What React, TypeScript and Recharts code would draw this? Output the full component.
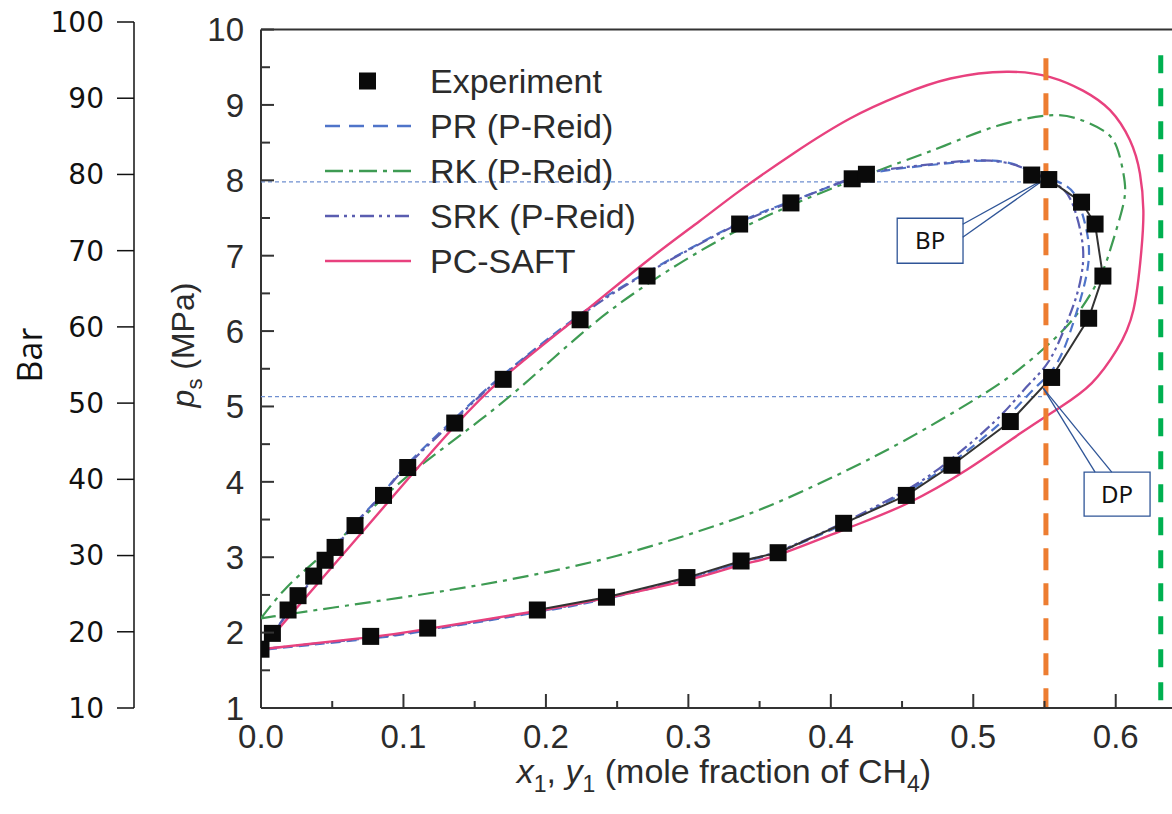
import { ComposedChart, Line, Scatter, XAxis, YAxis, ReferenceLine, ReferenceArea, Legend } from 'recharts';

// axis ticks
const X_TICKS = [0, 0.05, 0.1, 0.15, 0.2, 0.25, 0.3, 0.35, 0.4, 0.45, 0.5, 0.55, 0.6];
const P_TICKS = [1, 1.5, 2, 2.5, 3, 3.5, 4, 4.5, 5, 5.5, 6, 6.5, 7, 7.5, 8, 8.5, 9, 9.5, 10];
const BAR_TICKS = [10, 20, 30, 40, 50, 60, 70, 80, 90, 100];

// [x1/y1, ps MPa]
const EXPERIMENT: [number, number][] = [
  [0, 1.78], [0.008, 1.99], [0.019, 2.3], [0.026, 2.49], [0.037, 2.75], [0.045, 2.96],
  [0.052, 3.13], [0.066, 3.42], [0.086, 3.82], [0.103, 4.19], [0.136, 4.78], [0.17, 5.36],
  [0.224, 6.15], [0.271, 6.73], [0.336, 7.42], [0.372, 7.7], [0.415, 8.02], [0.425, 8.08],
  [0.541, 8.07], [0.553, 8.01], [0.576, 7.71], [0.5855, 7.42], [0.591, 6.73], [0.581, 6.17],
  [0.555, 5.385], [0.526, 4.8], [0.485, 4.22], [0.453, 3.82], [0.409, 3.45], [0.363, 3.06],
  [0.337, 2.95], [0.299, 2.73], [0.2425, 2.47], [0.194, 2.3], [0.117, 2.06], [0.077, 1.95],
];

// black line joining the dew-side measurements
const EXP_LINE: [number, number][] = [
  [0.553, 8.01], [0.576, 7.71], [0.5855, 7.42], [0.591, 6.73], [0.581, 6.17], [0.555, 5.385],
  [0.526, 4.8], [0.485, 4.22], [0.453, 3.82], [0.409, 3.45], [0.363, 3.06], [0.337, 2.95],
  [0.299, 2.73], [0.2425, 2.47], [0.194, 2.3],
];

const PR: [number, number][] = [
  [0, 1.77], [0.02, 2.3], [0.045, 2.97], [0.066, 3.45], [0.086, 3.86], [0.103, 4.24],
  [0.136, 4.84], [0.17, 5.42], [0.224, 6.22], [0.271, 6.78], [0.336, 7.44], [0.372, 7.72],
  [0.415, 8.02], [0.45, 8.16], [0.49, 8.24], [0.514, 8.26], [0.531, 8.2], [0.545, 8.08],
  [0.5656, 7.92], [0.575, 7.65], [0.58, 7.29], [0.581, 6.94], [0.577, 6.54], [0.57, 6.1],
  [0.5586, 5.57], [0.542, 5.22], [0.519, 4.78], [0.481, 4.2], [0.451, 3.85], [0.409, 3.44],
  [0.363, 3.07], [0.337, 2.93], [0.299, 2.71], [0.2425, 2.45], [0.194, 2.27], [0.117, 2.03],
  [0.077, 1.92], [0, 1.77],
];

const SRK: [number, number][] = [
  [0, 1.78], [0.02, 2.29], [0.045, 2.95], [0.066, 3.44], [0.086, 3.85], [0.103, 4.22],
  [0.136, 4.82], [0.17, 5.41], [0.224, 6.2], [0.271, 6.77], [0.336, 7.43], [0.372, 7.71],
  [0.415, 8.03], [0.45, 8.17], [0.49, 8.25], [0.512, 8.26], [0.53, 8.2], [0.545, 8.07],
  [0.562, 7.9], [0.571, 7.62], [0.576, 7.25], [0.577, 6.9], [0.573, 6.5], [0.565, 6.08],
  [0.553, 5.6], [0.537, 5.25], [0.515, 4.8], [0.479, 4.22], [0.45, 3.86], [0.408, 3.45],
  [0.363, 3.08], [0.337, 2.94], [0.299, 2.72], [0.2425, 2.46], [0.194, 2.28], [0.117, 2.04],
  [0.077, 1.93], [0, 1.78],
];

const RK: [number, number][] = [
  [0, 2.19], [0.018, 2.6], [0.04, 2.98], [0.07, 3.5], [0.1, 4.03], [0.14, 4.62],
  [0.18, 5.22], [0.224, 5.95], [0.271, 6.62], [0.336, 7.35], [0.402, 7.9], [0.449, 8.24],
  [0.48, 8.46], [0.5165, 8.72], [0.5516, 8.86], [0.5727, 8.82], [0.5913, 8.66], [0.6007, 8.44],
  [0.6054, 8.09], [0.6065, 7.82], [0.603, 7.51], [0.596, 7.07], [0.589, 6.72], [0.575, 6.28],
  [0.556, 5.88], [0.53, 5.46], [0.5, 5.08], [0.45, 4.53], [0.4, 4.05], [0.35, 3.63],
  [0.3, 3.3], [0.25, 3.02], [0.2, 2.8], [0.15, 2.62], [0.1, 2.47], [0.05, 2.33], [0, 2.19],
];

const PC_SAFT: [number, number][] = [
  [0, 1.78], [0.0512, 2.9], [0.1024, 4.02], [0.136, 4.74], [0.17, 5.38], [0.224, 6.21],
  [0.271, 6.93], [0.308, 7.46], [0.336, 7.86], [0.374, 8.36], [0.4135, 8.82], [0.449, 9.13],
  [0.484, 9.35], [0.5235, 9.44], [0.554, 9.37], [0.577, 9.19], [0.596, 8.93], [0.61, 8.53],
  [0.617, 8.09], [0.6194, 7.6], [0.618, 7.07], [0.6124, 6.28], [0.6007, 5.75], [0.5832, 5.31],
  [0.561, 4.99], [0.5328, 4.64], [0.4955, 4.16], [0.4533, 3.71], [0.4112, 3.38], [0.363, 3.03],
  [0.337, 2.9], [0.3, 2.7], [0.243, 2.46], [0.195, 2.29], [0.117, 2.05], [0.077, 1.94], [0, 1.78],
];

const pts = (arr: [number, number][]) => arr.map(([x, p]) => ({ x, p }));

const FONT = '"Liberation Sans", Arial, sans-serif';
const TXT = '#2b2b2b';
const C_PR = '#4f74c9';
const C_RK = '#3e9b53';
const C_SRK = '#5a5db0';
const C_SAFT = '#e8417e';
const C_CALLOUT = '#2f5597';

const Square = (props: any) => (
  <rect x={props.cx - 8.5} y={props.cy - 8.5} width={17} height={17} fill="#0a0a0a" />
);

const MpaTick = (props: any) => {
  const { x, y, payload } = props;
  const v = payload.value;
  const major = Number.isInteger(v);
  return (
    <g>
      <line x1={x} x2={x + (major ? 13 : 9)} y1={y} y2={y} stroke="#333" strokeWidth={2} />
      {major && (
        <text x={x - 17} y={y} dy="0.36em" textAnchor="end" fontSize={33} fontFamily={FONT} fill={TXT}>
          {v}
        </text>
      )}
    </g>
  );
};

const XTick = (props: any) => {
  const { x, y, payload } = props;
  const v = payload.value;
  const major = Math.abs(v * 10 - Math.round(v * 10)) < 1e-6;
  return (
    <g>
      <line x1={x} x2={x} y1={y} y2={y - (major ? 14 : 7)} stroke="#333" strokeWidth={2} />
      {major && (
        <text x={x} y={y + 40} textAnchor="middle" fontSize={33} fontFamily={FONT} fill={TXT}>
          {v.toFixed(1)}
        </text>
      )}
    </g>
  );
};

const XTitle = () => (
  <text x={724} y={783} textAnchor="middle" fontSize={34} fontFamily={FONT} fill={TXT}>
    <tspan fontStyle="italic">x</tspan>
    <tspan dy={9} fontSize={23}>1</tspan>
    <tspan dy={-9}>, </tspan>
    <tspan fontStyle="italic">y</tspan>
    <tspan dy={9} fontSize={23}>1</tspan>
    <tspan dy={-9}> (mole fraction of CH</tspan>
    <tspan dy={9} fontSize={23}>4</tspan>
    <tspan dy={-9}>)</tspan>
  </text>
);

const PTitle = () => (
  <text
    x={194}
    y={345}
    transform="rotate(-90, 194, 345)"
    textAnchor="middle"
    fontSize={32}
    fontFamily={FONT}
    fill={TXT}
  >
    <tspan fontStyle="italic">p</tspan>
    <tspan dy={8} fontSize={22}>s</tspan>
    <tspan dy={-8}> (MPa)</tspan>
  </text>
);

const BarTitle = () => (
  <text
    x={42}
    y={355}
    transform="rotate(-90, 42, 355)"
    textAnchor="middle"
    fontSize={34}
    fontFamily='"Open Sans", sans-serif'
    fill="#111"
  >
    Bar
  </text>
);

const LEGEND_ROWS = [
  { name: 'Experiment', color: '#0a0a0a', dash: '' },
  { name: 'PR (P-Reid)', color: C_PR, dash: '15 9' },
  { name: 'RK (P-Reid)', color: C_RK, dash: '18 6 4 6' },
  { name: 'SRK (P-Reid)', color: C_SRK, dash: '14 5 3 5 3 5' },
  { name: 'PC-SAFT', color: C_SAFT, dash: '' },
];

const LegendBox = () => (
  <svg width={360} height={230}>
    {LEGEND_ROWS.map((r, i) => {
      const y = 23 + i * 45;
      return (
        <g key={r.name}>
          {i === 0 ? (
            <rect x={44} y={y - 8.5} width={17} height={17} fill={r.color} />
          ) : (
            <line x1={10} x2={96} y1={y} y2={y} stroke={r.color} strokeWidth={2.5} strokeDasharray={r.dash || undefined} />
          )}
          <text x={115} y={y} dy="0.36em" fontSize={34} fontFamily={FONT} fill={TXT}>
            {r.name}
          </text>
        </g>
      );
    })}
  </svg>
);

export default function App() {
  return (
    <div style={{ position: 'absolute', left: 0, top: 0, width: 1172, height: 814, background: '#fff' }}>
      <ComposedChart width={1172} height={814} margin={{ top: 22, right: 0, bottom: 20, left: 0 }}>
        <XAxis
          type="number"
          dataKey="x"
          domain={[0, 0.6395]}
          ticks={X_TICKS}
          interval={0}
          allowDataOverflow
          height={86}
          tickSize={0}
          tickMargin={0}
          tickLine={false}
          axisLine={{ stroke: '#333', strokeWidth: 2 }}
          tick={<XTick />}
          label={{ content: () => <XTitle /> }}
        />
        {/* outer Bar scale */}
        <YAxis
          yAxisId="b"
          type="number"
          domain={[10, 100]}
          ticks={BAR_TICKS}
          interval={0}
          allowDataOverflow
          width={134}
          tickSize={17}
          tickMargin={13}
          tickLine={{ stroke: '#111', strokeWidth: 1.5 }}
          axisLine={{ stroke: '#111', strokeWidth: 1.5 }}
          tick={{ fontSize: 28, fontFamily: '"DejaVu Sans", Verdana, sans-serif', fill: '#111' }}
          label={{ content: () => <BarTitle /> }}
        />
        {/* inner MPa scale */}
        <YAxis
          yAxisId="a"
          type="number"
          dataKey="p"
          domain={[1, 10.1]}
          ticks={P_TICKS}
          interval={0}
          allowDataOverflow
          width={127}
          tickSize={0}
          tickMargin={0}
          tickLine={false}
          axisLine={false}
          tick={<MpaTick />}
          label={{ content: () => <PTitle /> }}
        />

        {/* frame */}
        <ReferenceLine yAxisId="a" segment={[{ x: 0, y: 1 }, { x: 0, y: 10 }]} stroke="#333" strokeWidth={2} />
        <ReferenceLine yAxisId="a" segment={[{ x: 0, y: 10 }, { x: 0.6395, y: 10 }]} stroke="#333" strokeWidth={2} />

        {/* BP / DP guide lines */}
        <ReferenceLine yAxisId="a" segment={[{ x: 0, y: 7.98 }, { x: 0.552, y: 7.98 }]} stroke="#6f8fd0" strokeWidth={1.2} strokeDasharray="4 3" />
        <ReferenceLine yAxisId="a" segment={[{ x: 0, y: 5.13 }, { x: 0.549, y: 5.13 }]} stroke="#6f8fd0" strokeWidth={1.2} strokeDasharray="4 3" />

        <Scatter yAxisId="a" data={pts(EXPERIMENT)} dataKey="p" shape={Square} isAnimationActive={false} legendType="none" />

        <Line yAxisId="a" data={pts(RK)} dataKey="p" type="natural" stroke={C_RK} strokeWidth={2.2} strokeDasharray="16 6 4 6" dot={false} activeDot={false} isAnimationActive={false} />
        <Line yAxisId="a" data={pts(PR)} dataKey="p" type="natural" stroke={C_PR} strokeWidth={2.2} strokeDasharray="10 6" dot={false} activeDot={false} isAnimationActive={false} />
        <Line yAxisId="a" data={pts(SRK)} dataKey="p" type="natural" stroke={C_SRK} strokeWidth={2.2} strokeDasharray="12 4 3 4 3 4" dot={false} activeDot={false} isAnimationActive={false} />
        <Line yAxisId="a" data={pts(PC_SAFT)} dataKey="p" type="natural" stroke={C_SAFT} strokeWidth={2.4} dot={false} activeDot={false} isAnimationActive={false} />
        <Line yAxisId="a" data={pts(EXP_LINE)} dataKey="p" type="linear" stroke="#333" strokeWidth={2} dot={false} activeDot={false} isAnimationActive={false} />

        {/* vertical markers */}
        <ReferenceLine yAxisId="a" segment={[{ x: 0.551, y: 9.62 }, { x: 0.551, y: 1 }]} stroke="#ed7d31" strokeWidth={5} strokeDasharray="22 13" />
        <ReferenceLine yAxisId="a" segment={[{ x: 0.6316, y: 9.66 }, { x: 0.6316, y: 1 }]} stroke="#00b050" strokeWidth={5} strokeDasharray="18 15" />

        {/* callouts */}
        <ReferenceLine yAxisId="a" segment={[{ x: 0.4926, y: 7.417 }, { x: 0.5516, y: 8.034 }]} stroke={C_CALLOUT} strokeWidth={1.3} />
        <ReferenceLine yAxisId="a" segment={[{ x: 0.4926, y: 7.245 }, { x: 0.5516, y: 8.034 }]} stroke={C_CALLOUT} strokeWidth={1.3} />
        <ReferenceArea
          yAxisId="a"
          x1={0.4466}
          x2={0.4928}
          y1={6.9}
          y2={7.497}
          fill="#fff"
          fillOpacity={1}
          stroke={C_CALLOUT}
          strokeWidth={1.3}
          label={{ value: 'BP', position: 'center', fontSize: 24, fontFamily: '"Noto Sans", sans-serif', fill: '#111' }}
        />
        <ReferenceLine yAxisId="a" segment={[{ x: 0.5855, y: 4.129 }, { x: 0.5492, y: 5.239 }]} stroke={C_CALLOUT} strokeWidth={1.3} />
        <ReferenceLine yAxisId="a" segment={[{ x: 0.5972, y: 4.129 }, { x: 0.5492, y: 5.239 }]} stroke={C_CALLOUT} strokeWidth={1.3} />
        <ReferenceArea
          yAxisId="a"
          x1={0.5778}
          x2={0.6241}
          y1={3.546}
          y2={4.129}
          fill="#fff"
          fillOpacity={1}
          stroke={C_CALLOUT}
          strokeWidth={1.3}
          label={{ value: 'DP', position: 'center', fontSize: 24, fontFamily: '"Noto Sans", sans-serif', fill: '#111' }}
        />

        <Legend
          layout="vertical"
          align="center"
          verticalAlign="middle"
          content={() => <LegendBox />}
          wrapperStyle={{ position: 'absolute', left: 315, top: 58, width: 360, height: 230 }}
        />
      </ComposedChart>
    </div>
  );
}
